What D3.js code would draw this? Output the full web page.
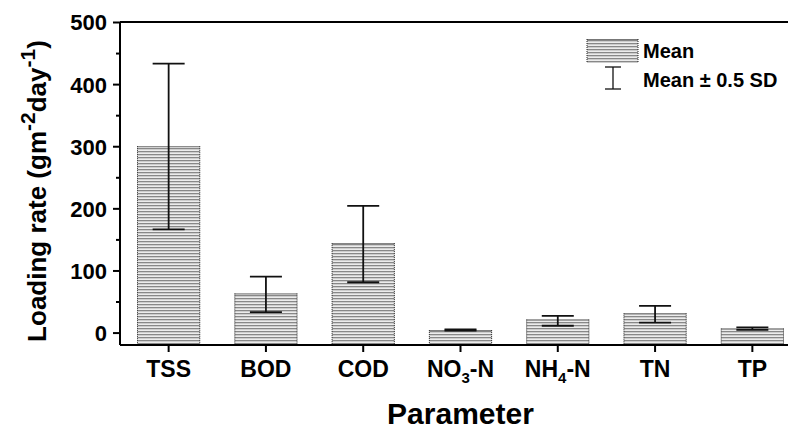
<!DOCTYPE html>
<html>
<head>
<meta charset="utf-8">
<script src="https://cdn.jsdelivr.net/npm/d3@7"></script>
<style>
  body { margin: 0; background: #fff; }
  text { font-family: "Liberation Sans", Arial, sans-serif; font-weight: bold; fill: #000; }
</style>
</head>
<body>
<script>
var w = 788
var h = 430

// data
var categories = ["TSS", "BOD", "COD", "NO3-N", "NH4-N", "TN", "TP"]
var means = [300, 63, 144, 4, 21, 31, 6.5]
var lowers = [166, 33, 81, 3, 11, 16, 4.5]
var uppers = [433, 90, 204, 5, 27, 43, 8.5]
var yTicks = [0, 100, 200, 300, 400, 500]
var yMinorTicks = [50, 150, 250, 350, 450]

// plot box (right side runs past the picture, like the original)
var pLeft = 120, pRight = 801, pTop = 22, pBottom = 345

var svg = d3.select("body")
            .append("svg")
            .attr("width", w)
            .attr("height", h)

// striped fill like the original bars
var defs = svg.append("defs")
var pat = defs.append("pattern")
              .attr("id", "stripes")
              .attr("patternUnits", "userSpaceOnUse")
              .attr("width", 6)
              .attr("height", 3)
pat.append("rect").attr("width", 6).attr("height", 3).attr("fill", "#ececec")
pat.append("rect").attr("y", 1).attr("width", 6).attr("height", 1.3).attr("fill", "#888")

var x = d3.scaleBand()
          .domain(categories)
          .range([pLeft, pRight])
          .padding(0)

var y = d3.scaleLinear()
          .domain([-20, 500])
          .range([pBottom, pTop])

var bw = x.bandwidth() * 0.64
var cx = function(d) { return x(d.cat) + x.bandwidth() / 2 }

var rows = categories.map(function(c, i) {
  return {cat: c, mean: means[i], lo: lowers[i], hi: uppers[i]}
})

// bars (drawn from the axis floor)
var bars = svg.selectAll("g.bar")
  .data(rows)
  .enter().append("g")
  .attr("class", "bar")

bars.append("rect")
  .attr("x", function(d) { return cx(d) - bw / 2 })
  .attr("y", function(d) { return y(d.mean) })
  .attr("width", bw)
  .attr("height", function(d) { return y(-20) - y(d.mean) })
  .attr("fill", "url(#stripes)")

bars.append("line") // top edge
  .attr("x1", function(d) { return cx(d) - bw / 2 })
  .attr("x2", function(d) { return cx(d) + bw / 2 })
  .attr("y1", function(d) { return y(d.mean) + 0.5 })
  .attr("y2", function(d) { return y(d.mean) + 0.5 })
  .attr("stroke", "#777")
  .attr("stroke-width", 1)

;[-1, 1].forEach(function(s) { // dotted side edges
  bars.append("line")
    .attr("x1", function(d) { return cx(d) + s * bw / 2 })
    .attr("x2", function(d) { return cx(d) + s * bw / 2 })
    .attr("y1", function(d) { return y(d.mean) })
    .attr("y2", function(d) { return y(-20) })
    .attr("stroke", "#222")
    .attr("stroke-width", 1)
    .attr("stroke-dasharray", "1,1")
})

// error bars
var cap = 16
var err = svg.selectAll("g.err")
  .data(rows)
  .enter().append("g")
  .attr("class", "err")
  .attr("stroke", "#111")
  .attr("stroke-width", 1.8)

err.append("line")
  .attr("x1", cx).attr("x2", cx)
  .attr("y1", function(d) { return y(d.hi) })
  .attr("y2", function(d) { return y(d.lo) })
err.append("line")
  .attr("x1", function(d) { return cx(d) - cap })
  .attr("x2", function(d) { return cx(d) + cap })
  .attr("y1", function(d) { return y(d.hi) })
  .attr("y2", function(d) { return y(d.hi) })
err.append("line")
  .attr("x1", function(d) { return cx(d) - cap })
  .attr("x2", function(d) { return cx(d) + cap })
  .attr("y1", function(d) { return y(d.lo) })
  .attr("y2", function(d) { return y(d.lo) })

// axes
var yAxis = svg.append("g")
  .attr("transform", "translate(" + pLeft + ",0)")
  .call(d3.axisLeft(y).tickValues(yTicks).tickSize(7).tickPadding(6))
var yMinor = svg.append("g")
  .attr("transform", "translate(" + pLeft + ",0)")
  .call(d3.axisLeft(y).tickValues(yMinorTicks).tickSize(4).tickFormat(""))
yMinor.select(".domain").remove()

var xAxis = svg.append("g")
  .attr("transform", "translate(0," + pBottom + ")")
  .call(d3.axisBottom(x).tickSize(7).tickPadding(7).tickFormat(""))

svg.selectAll(".tick line").attr("stroke", "#000").attr("stroke-width", 2)
svg.selectAll(".domain").attr("stroke", "#000").attr("stroke-width", 2)
yAxis.select(".domain").attr("d", "M0," + pBottom + "V" + pTop)
xAxis.select(".domain").attr("d", "M" + pLeft + ",0H" + pRight)
yAxis.selectAll(".tick text")
  .style("font-size", "22px")
  .attr("dy", "0.36em")

// top frame
svg.append("line")
  .attr("x1", pLeft).attr("x2", pRight)
  .attr("y1", pTop).attr("y2", pTop)
  .attr("stroke", "#000").attr("stroke-width", 2)

// category labels with subscripts
var labels = xAxis.selectAll(".tick")
  .append("text")
  .attr("y", 32)
  .attr("text-anchor", "middle")
  .style("font-size", "23px")
  .attr("fill", "#000")

labels.each(function(d) {
  var t = d3.select(this)
  var m = d.match(/^(NO|NH)(\d)(-N)$/)
  if (m) {
    t.append("tspan").text(m[1])
    t.append("tspan").text(m[2]).style("font-size", "15px").attr("dy", 6)
    t.append("tspan").text(m[3]).attr("dy", -6)
  } else {
    t.text(d)
  }
})

// axis titles
svg.append("text")
  .attr("x", (pLeft + pRight) / 2)
  .attr("y", 424)
  .attr("text-anchor", "middle")
  .style("font-size", "30px")
  .text("Parameter")

var yt = svg.append("text")
  .attr("transform", "translate(46," + 191 + ") rotate(-90)")
  .attr("text-anchor", "middle")
  .style("font-size", "26px")
yt.append("tspan").text("Loading rate (gm")
yt.append("tspan").text("-2").style("font-size", "21px").attr("dy", -11)
yt.append("tspan").text("day").attr("dy", 11)
yt.append("tspan").text("-1").style("font-size", "21px").attr("dy", -11)
yt.append("tspan").text(")").attr("dy", 11)

// legend
var lg = svg.append("g")
lg.append("rect")
  .attr("x", 587).attr("y", 39)
  .attr("width", 51).attr("height", 24)
  .attr("fill", "url(#stripes)")
lg.append("line")
  .attr("x1", 587).attr("x2", 638).attr("y1", 39.5).attr("y2", 39.5)
  .attr("stroke", "#777")
;[587, 638].forEach(function(px) {
  lg.append("line")
    .attr("x1", px).attr("x2", px).attr("y1", 39).attr("y2", 63)
    .attr("stroke", "#222").attr("stroke-dasharray", "1,1")
})
lg.append("text").attr("x", 643).attr("y", 58).style("font-size", "20px").text("Mean")
var eb = lg.append("g").attr("stroke", "#111").attr("stroke-width", 1.3)
eb.append("line").attr("x1", 613).attr("x2", 613).attr("y1", 67).attr("y2", 89)
eb.append("line").attr("x1", 605).attr("x2", 621).attr("y1", 67).attr("y2", 67)
eb.append("line").attr("x1", 605).attr("x2", 621).attr("y1", 89).attr("y2", 89)
lg.append("text").attr("x", 643).attr("y", 87).style("font-size", "20px").text("Mean \u00b1 0.5 SD")
</script>
</body>
</html>
